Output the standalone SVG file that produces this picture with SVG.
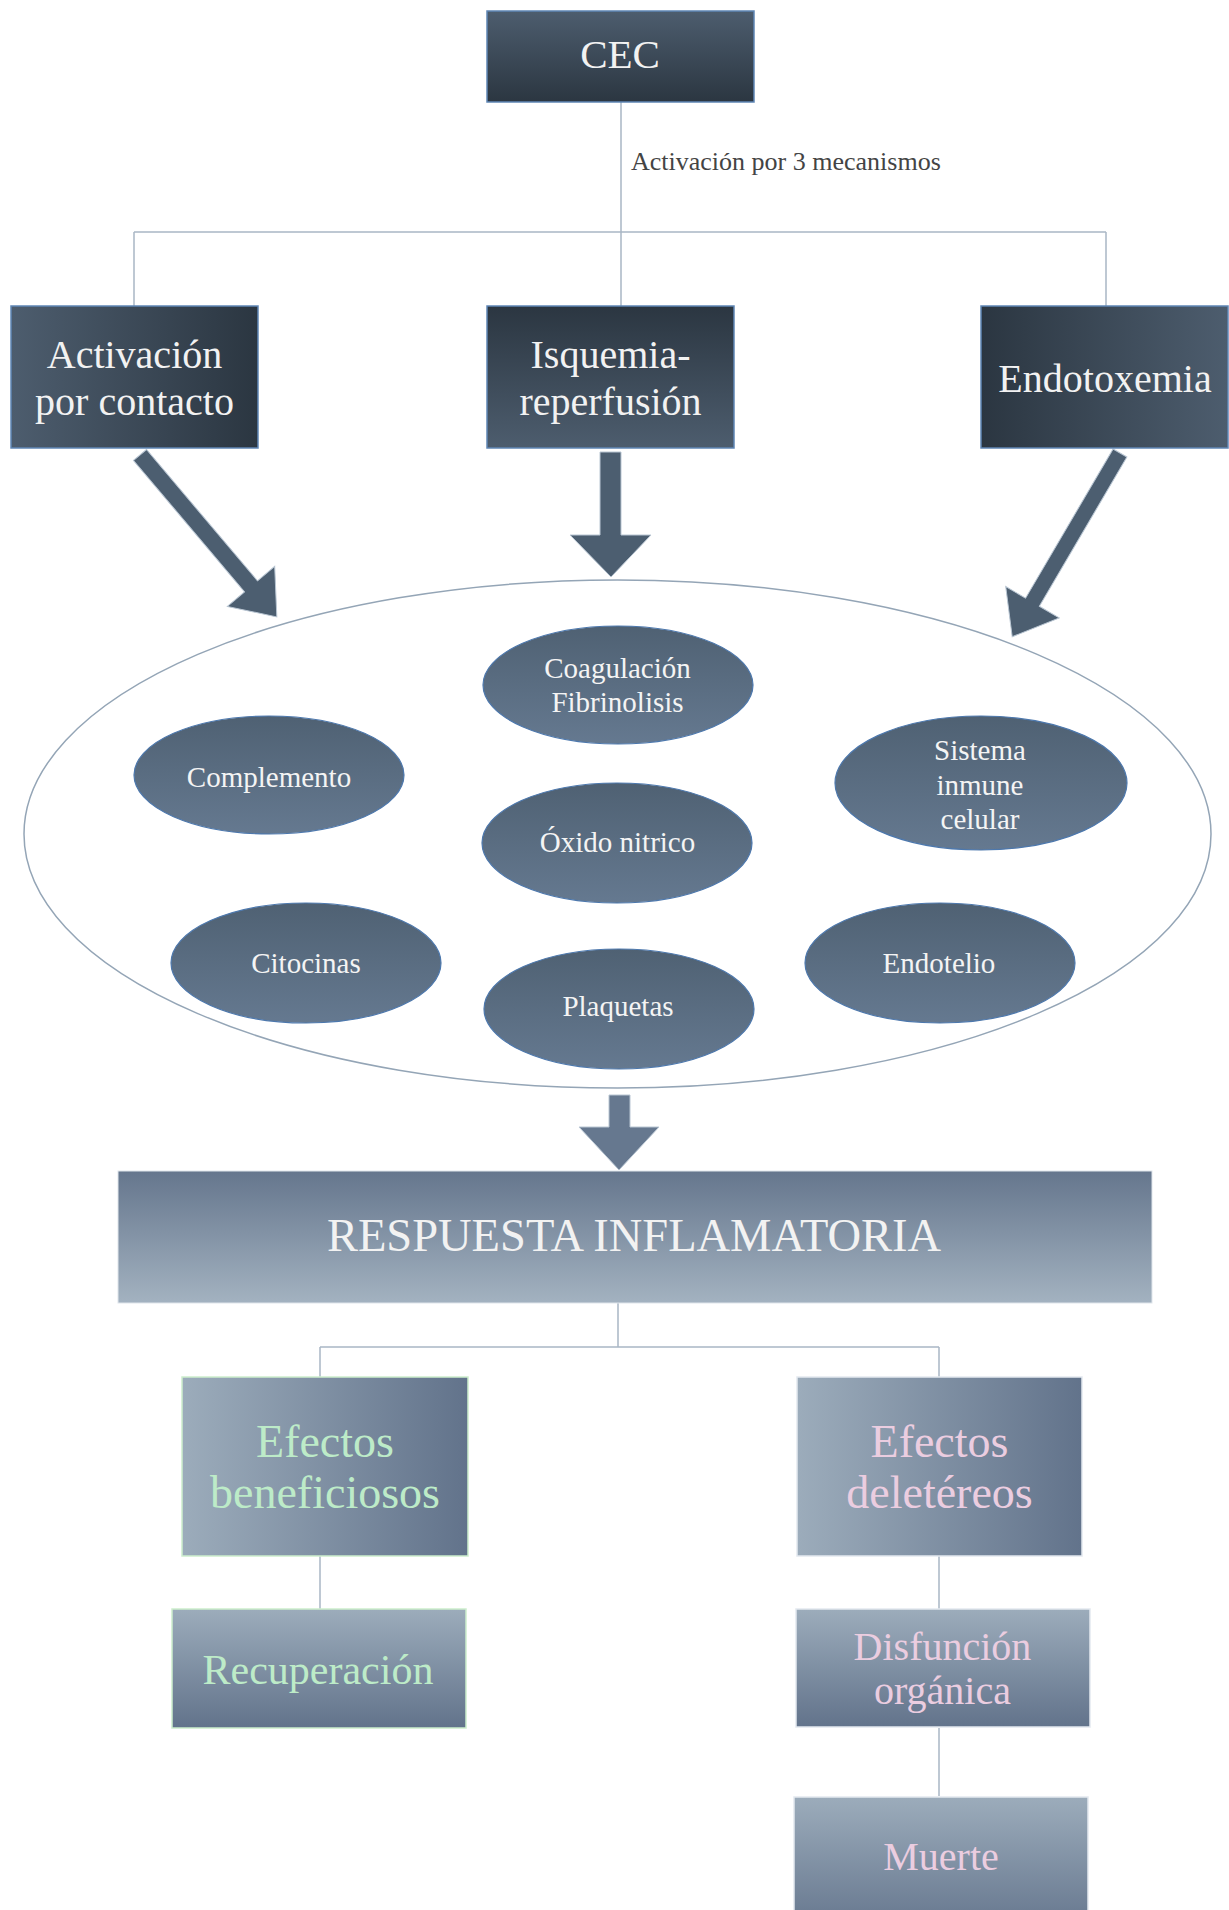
<svg xmlns="http://www.w3.org/2000/svg" width="1229" height="1910" viewBox="0 0 1229 1910">
<defs>
<linearGradient id="gDarkV" x1="0" y1="0" x2="0" y2="1"><stop offset="0" stop-color="#4d5d6e"/><stop offset="1" stop-color="#2b3641"/></linearGradient>
<linearGradient id="gDarkVr" x1="0" y1="0" x2="0" y2="1"><stop offset="0" stop-color="#2b3641"/><stop offset="1" stop-color="#4d5d6e"/></linearGradient>
<linearGradient id="gDarkH" x1="0" y1="0" x2="1" y2="0"><stop offset="0" stop-color="#4d5d6e"/><stop offset="1" stop-color="#2b3641"/></linearGradient>
<linearGradient id="gDarkHr" x1="0" y1="0" x2="1" y2="0"><stop offset="0" stop-color="#2b3641"/><stop offset="1" stop-color="#4d5d6e"/></linearGradient>
<linearGradient id="gEll" x1="0" y1="0" x2="0" y2="1"><stop offset="0" stop-color="#4f6173"/><stop offset="1" stop-color="#657990"/></linearGradient>
<linearGradient id="gResp" x1="0" y1="0" x2="0" y2="1"><stop offset="0" stop-color="#65768d"/><stop offset="1" stop-color="#a3b2c0"/></linearGradient>
<linearGradient id="gLightH" x1="0" y1="0" x2="1" y2="0"><stop offset="0" stop-color="#9cacbb"/><stop offset="1" stop-color="#62738b"/></linearGradient>
<linearGradient id="gLightV" x1="0" y1="0" x2="0" y2="1"><stop offset="0" stop-color="#9cacbb"/><stop offset="1" stop-color="#62738b"/></linearGradient>
</defs>
<style>
text{font-family:"Liberation Serif","Times New Roman",serif;text-anchor:middle;}
.dark{stroke:#5f86b5;stroke-width:1.5;}
.big{font-size:40px;fill:#f2f2f2;}
.ell{stroke:#4d78ad;stroke-width:1.2;fill:url(#gEll);}
.et{font-size:29px;fill:#f4f4f4;}
.conn{stroke:#a9b7c5;stroke-width:1.5;fill:none;}
.arrow{fill:#4c5e70;stroke:#b9c6d3;stroke-width:1;}
.green{fill:#bdebc8;}
.pink{fill:#ebcde0;}
.gb{stroke:#cdeecd;stroke-width:1.5;}
.pb{stroke:#e3e9ef;stroke-width:1.5;}
</style>

<g id="connectors">
<path class="conn" d="M621,102 V232 M134,232 H1106 M134,232 V306 M621,232 V306 M1106,232 V306"/>
<path class="conn" d="M618,1303 V1347 M320,1347 H939 M320,1347 V1377 M939,1347 V1377"/>
<path class="conn" d="M320,1556 V1609 M939,1556 V1609 M939,1728 V1796"/>
<polygon class="arrow" points="600,452 621,452 621,535 651,535 611,577 570,535 600,535"/>
<polygon class="arrow" transform="translate(140,455) rotate(-40.2)" points="-8.5,0 8.5,0 8.5,172 31,172 0,212 -31,172 -8.5,172"/>
<polygon class="arrow" transform="translate(1120,453) rotate(30.4)" points="-8,0 8,0 8,173 31,173 0,213 -31,173 -8,173"/>
<polygon class="arrow" style="fill:#66788f" points="609,1095 630,1095 630,1127 659,1127 619,1170 579,1127 609,1127"/>
</g>

<text x="631" y="170" style="font-size:26px;fill:#444;text-anchor:start">Activación por 3 mecanismos</text>

<g id="cec">
<rect class="dark" x="487" y="11" width="267" height="91" fill="url(#gDarkV)"/>
<text class="big" x="620" y="68" style="font-size:41px">CEC</text>
</g>

<g id="activacion">
<rect class="dark" x="11" y="306" width="247" height="142" fill="url(#gDarkH)"/>
<text class="big" x="134.5" y="368">Activación</text>
<text class="big" x="134.5" y="415">por contacto</text>
</g>

<g id="isquemia">
<rect class="dark" x="487" y="306" width="247" height="142" fill="url(#gDarkVr)"/>
<text class="big" x="610.5" y="368">Isquemia-</text>
<text class="big" x="610.5" y="415">reperfusión</text>
</g>

<g id="endotoxemia">
<rect class="dark" x="981" y="306" width="247" height="142" fill="url(#gDarkHr)"/>
<text class="big" x="1105" y="392">Endotoxemia</text>
</g>

<g id="sistemas">
<ellipse cx="617.5" cy="834" rx="593.5" ry="254" fill="#fff" stroke="#94a5b6" stroke-width="1.5"/>
</g>

<g id="coagulacion">
<ellipse class="ell" cx="618" cy="685" rx="135" ry="59"/>
<text class="et" x="617.5" y="678">Coagulación</text>
<text class="et" x="617.5" y="712">Fibrinolisis</text>
</g>

<g id="complemento">
<ellipse class="ell" cx="269" cy="775" rx="135" ry="59"/>
<text class="et" x="269" y="787">Complemento</text>
</g>

<g id="oxido">
<ellipse class="ell" cx="617" cy="843" rx="135" ry="60"/>
<text class="et" x="617.5" y="852">Óxido nitrico</text>
</g>

<g id="sistema-inmune">
<ellipse class="ell" cx="981" cy="783" rx="146" ry="67"/>
<text class="et" x="980" y="760">Sistema</text>
<text class="et" x="980" y="795">inmune</text>
<text class="et" x="980" y="829">celular</text>
</g>

<g id="citocinas">
<ellipse class="ell" cx="306" cy="963" rx="135" ry="60"/>
<text class="et" x="306" y="973">Citocinas</text>
</g>

<g id="plaquetas">
<ellipse class="ell" cx="619" cy="1009" rx="135" ry="60"/>
<text class="et" x="618" y="1016">Plaquetas</text>
</g>

<g id="endotelio">
<ellipse class="ell" cx="940" cy="963" rx="135" ry="60"/>
<text class="et" x="939" y="973">Endotelio</text>
</g>

<g id="respuesta">
<rect x="118" y="1171" width="1034" height="132" fill="url(#gResp)" stroke="#dfe5eb" stroke-width="1"/>
<text x="634" y="1251" style="font-size:46.5px;fill:#f2f2f2">RESPUESTA INFLAMATORIA</text>
</g>

<g id="beneficiosos">
<rect class="gb" x="182" y="1377" width="286" height="179" fill="url(#gLightH)"/>
<text class="green" x="325" y="1457" style="font-size:46px">Efectos</text>
<text class="green" x="325" y="1508" style="font-size:46px">beneficiosos</text>
</g>

<g id="deletereos">
<rect class="pb" x="797" y="1377" width="285" height="179" fill="url(#gLightH)"/>
<text class="pink" x="939.5" y="1457" style="font-size:46px">Efectos</text>
<text class="pink" x="939.5" y="1508" style="font-size:46px">deletéreos</text>
</g>

<g id="recuperacion">
<rect class="gb" x="172" y="1609" width="294" height="119" fill="url(#gLightV)"/>
<text class="green" x="318" y="1684" style="font-size:42px">Recuperación</text>
</g>

<g id="disfuncion">
<rect class="pb" x="796" y="1609" width="294" height="118" fill="url(#gLightV)"/>
<text class="pink" x="942.5" y="1660" style="font-size:40px">Disfunción</text>
<text class="pink" x="942.5" y="1704" style="font-size:40px">orgánica</text>
</g>

<g id="muerte">
<rect class="pb" x="794" y="1797" width="294" height="140" fill="url(#gLightV)"/>
<text class="pink" x="941" y="1870" style="font-size:40px">Muerte</text>
</g>
</svg>
